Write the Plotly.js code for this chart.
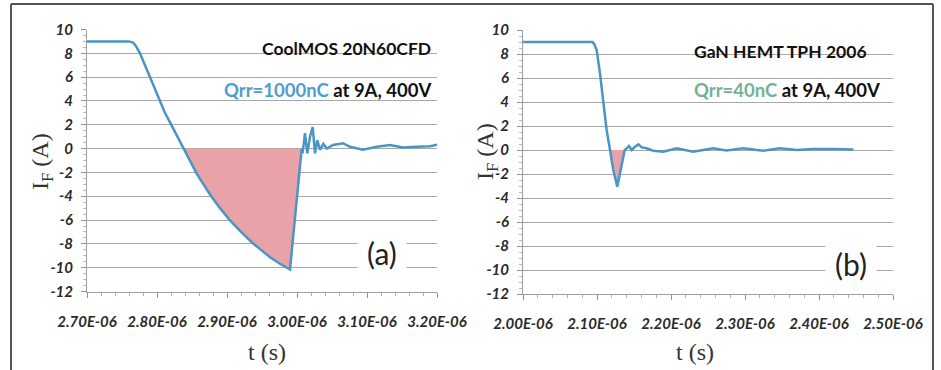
<!DOCTYPE html>
<html>
<head>
<meta charset="utf-8">
<script src="https://cdn.plot.ly/plotly-3.0.1.min.js"></script>
<style>html,body{margin:0;padding:0;background:#fff;}#chart{width:941px;height:370px;}</style>
</head>
<body>
<div id="chart"></div>
<script>
// ---- Data (time in microseconds, current in A) ----
const timeA = [2.700, 2.760, 2.766, 2.770, 2.7757, 2.783, 2.790, 2.797, 2.804, 2.811, 2.8186, 2.826, 2.8386,
  2.8567, 2.8757, 2.890, 2.904, 2.920, 2.937, 2.950, 2.961, 2.975, 2.987, 2.990, 3.0067,
  3.008, 3.0114, 3.0147, 3.0186, 3.0224, 3.0257, 3.029, 3.0329, 3.0376, 3.0424, 3.0514, 3.0657,
  3.0757, 3.094, 3.1139, 3.1329, 3.1514, 3.171, 3.190, 3.202];
const currentA = [9.0, 9.0, 8.9, 8.6, 8.0, 7.0, 6.0, 5.0, 4.0, 3.05, 2.2, 1.35, 0.0,
  -2.1, -3.85, -5.0, -6.0, -7.0, -7.95, -8.6, -9.1, -9.65, -10.05, -10.15, 0.0,
  -0.4, 1.3, -0.4, 1.0, 1.8, -0.4, 0.7, -0.1, 0.4, 0.0, 0.3, 0.45,
  0.15, -0.1, 0.15, 0.3, 0.1, 0.15, 0.2, 0.35];
const recoveryA = [2.8386, 3.0067];   // reverse-recovery window (shaded)

const timeB = [2.000, 2.094, 2.0965, 2.0996, 2.104, 2.1085, 2.113, 2.1176, 2.122, 2.1274, 2.132, 2.1375,
  2.140, 2.1432, 2.1469, 2.1514, 2.156, 2.1604, 2.167, 2.176, 2.1896, 2.2077, 2.230, 2.257, 2.275,
  2.2977, 2.3247, 2.347, 2.370, 2.392, 2.4196, 2.4466];
const currentB = [9.0, 9.0, 8.8, 8.3, 6.4, 3.9, 1.67, 0.0, -1.67, -3.05, -1.67, 0.0,
  0.14, 0.33, 0.0, 0.28, 0.47, 0.22, 0.14, -0.06, -0.14, 0.14, -0.14, 0.14, -0.05,
  0.14, -0.06, 0.14, 0.0, 0.08, 0.08, 0.05];
const recoveryB = [2.1176, 2.1375];

const xTicksA = [2.70, 2.80, 2.90, 3.00, 3.10, 3.20];
const xLabelsA = ['2.70E-06', '2.80E-06', '2.90E-06', '3.00E-06', '3.10E-06', '3.20E-06'];
const xTicksB = [2.00, 2.10, 2.20, 2.30, 2.40, 2.50];
const xLabelsB = ['2.00E-06', '2.10E-06', '2.20E-06', '2.30E-06', '2.40E-06', '2.50E-06'];
const yTicks = [10, 8, 6, 4, 2, 0, -2, -4, -6, -8, -10, -12];
const yLabels = ['10', '8', '6', '4', '2', '0', '-2', '-4', '-6', '-8', '-10', '-12'];

// ---- helpers ----
const us = v => v * 1e-6;
const W = 941, H = 370;
const px = x => x / W, py = y => 1 - y / H;

function fillTrace(t, c, win, xa, ya) {
  const xs = [], ys = [];
  t.forEach((v, i) => { if (v >= win[0] - 1e-9 && v <= win[1] + 1e-9) { xs.push(us(v)); ys.push(c[i]); } });
  return { x: xs, y: ys, xaxis: xa, yaxis: ya, type: 'scatter', mode: 'lines', fill: 'toself',
    fillcolor: '#e9a2a8', line: { width: 0, color: 'rgba(0,0,0,0)' }, hoverinfo: 'skip', showlegend: false };
}
function lineTrace(t, c, xa, ya) {
  return { x: t.map(us), y: c, xaxis: xa, yaxis: ya, type: 'scatter', mode: 'lines',
    line: { color: '#4a95c6', width: 2.5 }, showlegend: false };
}

const data = [
  fillTrace(timeA, currentA, recoveryA, 'x', 'y'),
  lineTrace(timeA, currentA, 'x', 'y'),
  fillTrace(timeB, currentB, recoveryB, 'x2', 'y2'),
  lineTrace(timeB, currentB, 'x2', 'y2')
];

const tickFont = { family: 'Lato, "Open Sans", sans-serif', size: 15, weight: 'bold', style: 'italic', color: '#2a2a2a' };
function xAxis(domain, range, tv, tt, anchor) {
  return { domain: domain, range: range.map(us), anchor: anchor, tickvals: tv.map(us), ticktext: tt,
    showgrid: false, zeroline: false, showline: true, linecolor: '#a0a0a0', linewidth: 1,
    ticks: 'outside', ticklen: 5, tickcolor: '#909090', tickfont: tickFont, ticklabelstandoff: 11,
    minor: { dtick: us(0.02), ticks: 'outside', ticklen: 3, tickcolor: '#b0b0b0', showgrid: false } };
}
function yAxis(domain, anchor) {
  return { domain: domain, range: [-12, 10], anchor: anchor, tickvals: yTicks, ticktext: yLabels,
    showgrid: true, gridcolor: '#a8a8a8', gridwidth: 1, zeroline: false, showline: true,
    linecolor: '#a0a0a0', linewidth: 1, ticks: 'outside', ticklen: 5, tickcolor: '#909090',
    tickfont: tickFont, ticklabelstandoff: 5,
    minor: { dtick: 0.5, ticks: 'outside', ticklen: 3, tickcolor: '#b8b8b8', showgrid: false } };
}

const serif = { family: '"Liberation Serif", "DejaVu Serif", serif', size: 24, color: '#333' };
const boldFont = { family: 'Lato, "Open Sans", sans-serif', size: 17.5, weight: 'bold', color: '#111' };
const boldFont2 = { family: 'Lato, "Open Sans", sans-serif', size: 18.5, weight: 'bold', color: '#111' };
const letterFont = { family: 'Lato, "Open Sans", sans-serif', size: 30, color: '#222' };

function ann(text, x, y, font, extra) {
  return Object.assign({ text: text, x: px(x), y: py(y), xref: 'paper', yref: 'paper', showarrow: false,
    xanchor: 'center', yanchor: 'middle', font: font }, extra || {});
}

const layout = {
  width: W, height: H, margin: { l: 0, r: 0, t: 0, b: 0 },
  paper_bgcolor: '#ffffff', plot_bgcolor: '#ffffff', showlegend: false,
  xaxis: xAxis([px(87), px(437)], [2.70, 3.20], xTicksA, xLabelsA, 'y'),
  yaxis: yAxis([1 - 291.5 / H, 1 - 29.5 / H], 'x'),
  xaxis2: xAxis([px(523), px(893)], [2.00, 2.50], xTicksB, xLabelsB, 'y2'),
  yaxis2: yAxis([1 - 294 / H, 1 - 30 / H], 'x2'),
  annotations: [
    ann('CoolMOS 20N60CFD', 433, 49, boldFont, { xanchor: 'right' }),
    ann('<span style="color:#4f9dcc">Qrr=1000nC</span> at 9A, 400V', 433, 90, boldFont2, { xanchor: 'right' }),
    ann('(a)', 382, 253, letterFont, { bgcolor: '#ffffff', borderpad: 9 }),
    ann('GaN HEMT TPH 2006', 692, 51, boldFont, { xanchor: 'left' }),
    ann('<span style="color:#74b296">Qrr=40nC</span> at 9A, 400V', 692, 90, boldFont2, { xanchor: 'left' }),
    ann('(b)', 851, 264, letterFont, { bgcolor: '#ffffff', borderpad: 9 }),
    ann('I<sub>F</sub> (A)', 42, 162, serif, { textangle: -90 }),
    ann('I<sub>F</sub> (A)', 487, 152, serif, { textangle: -90 }),
    ann('t (s)', 267, 352, serif),
    ann('t (s)', 695, 352, serif)
  ],
  shapes: [
    { type: 'line', xref: 'paper', yref: 'paper', x0: px(11), x1: px(933), y0: py(4), y1: py(4), line: { color: '#555', width: 2 } },
    { type: 'line', xref: 'paper', yref: 'paper', x0: px(11), x1: px(11), y0: py(4), y1: 0, line: { color: '#555', width: 2 } },
    { type: 'line', xref: 'paper', yref: 'paper', x0: px(933), x1: px(933), y0: py(4), y1: 0, line: { color: '#555', width: 2 } }
  ]
};

Plotly.newPlot('chart', data, layout, { staticPlot: true, displayModeBar: false });
</script>
</body>
</html>
